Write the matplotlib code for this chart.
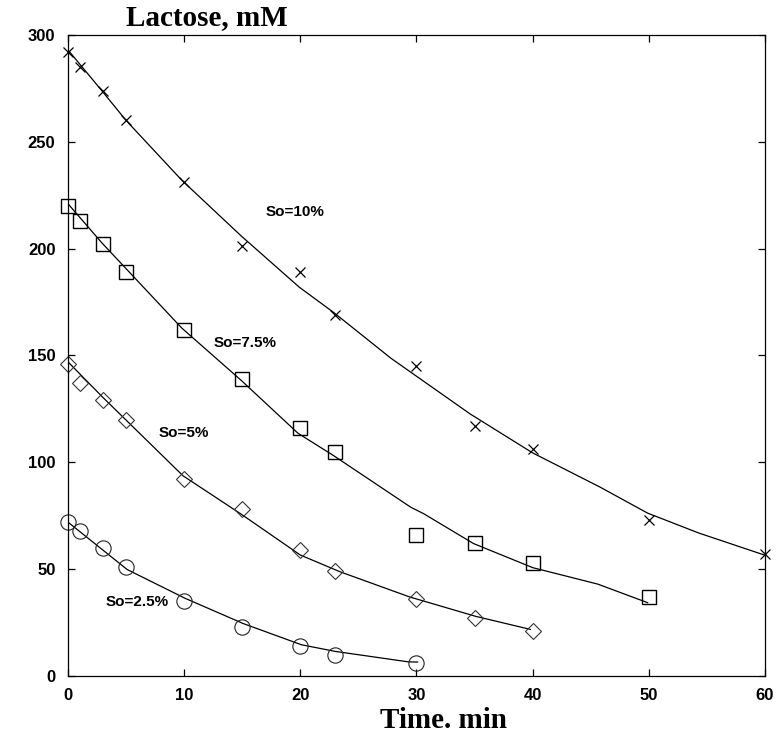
import numpy as np
import matplotlib
matplotlib.use("Agg")
import matplotlib.pyplot as plt

# measured points (time in min, lactose in mM)
t10 = [0, 1, 3, 5, 10, 15, 20, 23, 30, 35, 40, 50, 60]
s10 = [292, 285, 274, 260, 231, 201, 189, 169, 145, 117, 106, 73, 57]

t75 = [0, 1, 3, 5, 10, 15, 20, 23, 30, 35, 40, 50]
s75 = [220, 213, 202, 189, 162, 139, 116, 105, 66, 62, 53, 37]

t5 = [0, 1, 3, 5, 10, 15, 20, 23, 30, 35, 40]
s5 = [146, 137, 129, 120, 92, 78, 59, 49, 36, 27, 21]

t25 = [0, 1, 3, 5, 10, 15, 20, 23, 30]
s25 = [72, 68, 60, 51, 35, 23, 14, 10, 6]

# model curves
ct10 = [0, 2.9, 5, 9.8, 14.9, 19.9, 22.9, 27.8, 34.6, 40, 45.8, 49.9, 54.3, 60]
cs10 = [293, 274, 260, 232, 206, 182, 170, 148.7, 122.7, 104.4, 88.4, 76.2, 66.9, 56.5]

ct75 = [0, 2.9, 9.8, 14.9, 19.8, 22.9, 29.5, 30.6, 34.9, 40, 45.6, 49.9]
cs75 = [221, 202.8, 162.8, 138.4, 113.6, 103, 79, 76, 62, 50.7, 43, 34.3]

ct5 = [0, 3, 9.9, 15, 20, 23.4, 29.4, 35.1, 39.8]
cs5 = [147, 130.4, 93.7, 75.4, 56.6, 48.8, 37, 27.9, 21.8]

ct25 = [0, 5.1, 10.1, 15.1, 20.1, 23, 29.3, 30.1]
cs25 = [72, 49.8, 36.3, 24.5, 14.6, 11.5, 6.6, 6.5]

labels = ["So=10%", "So=7.5%", "So=5%", "So=2.5%"]
label_pos = [(17, 217), (12.5, 156), (7.8, 113.5), (3.2, 34.7)]

fig = plt.figure(figsize=(7.76, 7.39), dpi=100)
ax = fig.add_axes([0.0876, 0.0853, 0.8982, 0.8674])

lw = 0.9
ax.plot(ct10, cs10, color="black", lw=lw)
ax.plot(ct75, cs75, color="black", lw=lw)
ax.plot(ct5, cs5, color="black", lw=lw)
ax.plot(ct25, cs25, color="black", lw=lw)

ax.plot(t10, s10, "x", color="black", ms=7, mew=0.9, clip_on=False)
ax.plot(t75, s75, "s", mfc="none", mec="black", ms=10, mew=1.0, clip_on=False)
ax.plot(t5, s5, "D", mfc="none", mec="#333333", ms=8, mew=0.8, clip_on=False)
ax.plot(t25, s25, "o", mfc="none", mec="#222222", ms=11, mew=0.8, clip_on=False)

for txt, (x, y) in zip(labels, label_pos):
    ax.text(x, y, txt, fontsize=11, fontweight="bold", fontfamily="Liberation Sans",
            va="center", ha="left")

ax.set_xlim(0, 60)
ax.set_ylim(0, 300)
ax.set_xticks([0, 10, 20, 30, 40, 50, 60])
ax.set_yticks([0, 50, 100, 150, 200, 250, 300])
ax.tick_params(direction="in", length=5, width=0.9, top=True, right=True,
               labelsize=12, pad=9)
for lab in ax.get_xticklabels() + ax.get_yticklabels():
    lab.set_fontfamily("Liberation Sans")
    lab.set_fontweight("bold")
for sp in ax.spines.values():
    sp.set_linewidth(0.9)

fig.text(207 / 776, 1 - 18 / 739, "Lactose, mM", fontsize=21, fontweight="bold",
         fontfamily="Liberation Serif", ha="center", va="center")
fig.text(444 / 776, 1 - 720 / 739, "Time. min", fontsize=21, fontweight="bold",
         fontfamily="Liberation Serif", ha="center", va="center")

fig.savefig("out.png", dpi=100)
